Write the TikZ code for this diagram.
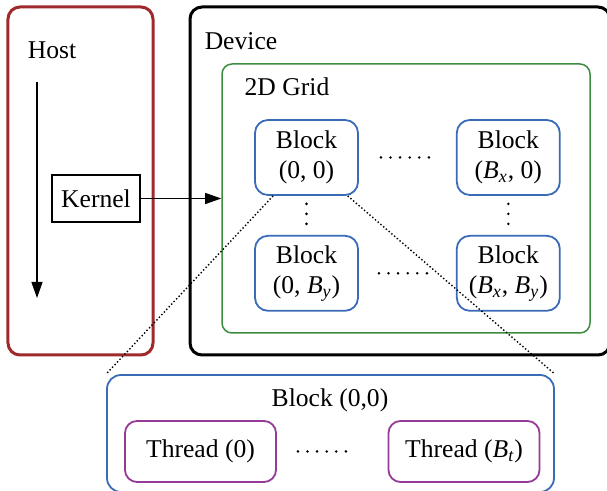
\documentclass[tikz,border=0pt]{standalone}
\usepackage{fontspec}
\setmainfont{Liberation Serif}
\usetikzlibrary{arrows.meta,positioning}
\definecolor{HostRed}{HTML}{9E2A2B}
\definecolor{GridGreen}{HTML}{3C8D40}
\definecolor{BlockBlue}{HTML}{3A6BB8}
\definecolor{ThreadPurple}{HTML}{953B97}

\begin{document}
\begin{tikzpicture}[x=0.5pt,y=-0.5pt,node distance=19.5pt and 48.5pt,
  every node/.style={font=\fontsize{12.8}{15}\selectfont},
  blk/.style={draw=BlockBlue,line width=0.9pt,rounded corners=6.5pt,minimum width=51.5pt,minimum height=37.5pt,align=center,inner sep=0pt},
  thr/.style={draw=ThreadPurple,line width=0.9pt,rounded corners=6pt,minimum width=75.5pt,minimum height=30.5pt,inner sep=0pt},
  hdots/.style={line width=1.4pt,line cap=round,dash pattern=on 0pt off 4.8pt},
  vdots/.style={line width=1.4pt,line cap=round,dash pattern=on 0pt off 5pt},
  zoomline/.style={line width=0.7pt,dash pattern=on 0.7pt off 1.1pt}]
\useasboundingbox (0,0) rectangle (607,491);
% host side
\node[draw=HostRed,line width=1.5pt,rounded corners=6pt,minimum width=72.5pt,minimum height=174pt] (host) at (80.5,181) {};
\node (hostlbl) at (52,50) {Host};
\coordinate (flowtop) at (37,82);
\coordinate (flowend) at (37,298);
\draw[line width=0.6pt,-{Triangle[length=8pt,width=5.5pt]}] (flowtop) -- (flowend);
\node[draw,line width=0.6pt,minimum width=44pt,minimum height=23.5pt,inner sep=0pt] (kernel) at (96,198.5) {Kernel};
% device side
\node[draw,line width=1.5pt,rounded corners=6pt,minimum width=210pt,minimum height=174pt] (device) at (400,181) {};
\node (devlbl) at (241,41) {Device};
\node[draw=GridGreen,line width=0.75pt,rounded corners=5pt,minimum width=184pt,minimum height=134.5pt] (grid) at (406,198.5) {};
\node (gridlbl) at (287,87) {2D Grid};
\node[blk] (b00) at (306.5,157.5) {Block\\(0, 0)};
\node[blk,right=of b00] (bx0) {Block\\(\textit{B\textsubscript{x}}, 0)};
\node[blk,below=of b00] (b0y) {Block\\(0, \textit{B\textsubscript{y}})};
\node[blk,below=of bx0] (bxy) {Block\\(\textit{B\textsubscript{x}}, \textit{B\textsubscript{y}})};
\draw[line width=0.6pt,-{Triangle[length=8pt,width=5.5pt]}] (kernel.east) -- (grid.west);
\draw[hdots,shorten <=11pt,shorten >=13pt] (b00) -- (bx0);
\draw[hdots,shorten <=10pt,shorten >=14pt] (b0y) -- (bxy);
\draw[vdots,shorten <=4pt,shorten >=5pt] (b00) -- (b0y);
\draw[vdots,shorten <=4pt,shorten >=5pt] (bx0) -- (bxy);
% one block opened up
\node[draw=BlockBlue,line width=0.9pt,rounded corners=7pt,minimum width=223.5pt,minimum height=58.5pt] (zoom) at (330.5,433.5) {};
\node (zoomlbl) at (330,400) {Block (0,0)};
\node[thr] (t0) at (200.5,451.5) {Thread (0)};
\node[thr] (tb) at (464,451.5) {Thread (\textit{B\textsubscript{t}})};
\draw[hdots,shorten <=10.5pt,shorten >=20.2pt] (t0) -- (tb);
\draw[zoomline] (b00.229) -- (zoom.north west);
\draw[zoomline] (b00.317) -- (zoom.north east);
\end{tikzpicture}
\end{document}
